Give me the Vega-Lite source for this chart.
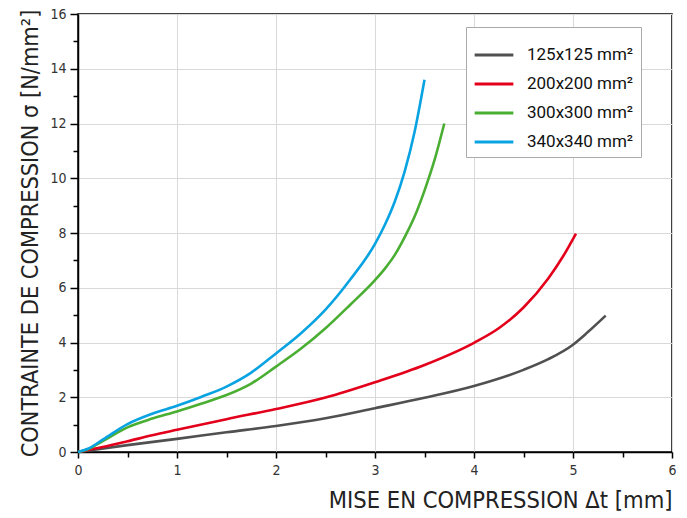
{
  "$schema": "https://vega.github.io/schema/vega-lite/v6.json",
  "autosize": "none",
  "width": 594,
  "height": 438,
  "padding": {"left": 78, "top": 14, "right": 15, "bottom": 66},
  "background": "white",
  "config": {
    "view": {"stroke": "black", "strokeWidth": 1.5},
    "axis": {"labelFont": "DejaVu Sans Condensed, Liberation Sans Narrow, DejaVu Sans", "titleFont": "DejaVu Sans Condensed, Liberation Sans Narrow, DejaVu Sans", "labelColor": "#333", "titleColor": "#222", "titleFontWeight": "normal", "domainColor": "black", "tickColor": "black", "domainWidth": 1.5, "tickWidth": 1.5, "gridColor": "#d9d9d9", "gridWidth": 1, "labelFlush": false}
  },
  "data": {"values": [
    {"s": "125x125 mm²", "x": 0, "y": 0},
    {"s": "125x125 mm²", "x": 0.5, "y": 0.25},
    {"s": "125x125 mm²", "x": 1, "y": 0.48},
    {"s": "125x125 mm²", "x": 1.5, "y": 0.72},
    {"s": "125x125 mm²", "x": 2, "y": 0.95},
    {"s": "125x125 mm²", "x": 2.5, "y": 1.23},
    {"s": "125x125 mm²", "x": 3, "y": 1.6},
    {"s": "125x125 mm²", "x": 3.5, "y": 1.98},
    {"s": "125x125 mm²", "x": 4, "y": 2.41},
    {"s": "125x125 mm²", "x": 4.5, "y": 3.0},
    {"s": "125x125 mm²", "x": 4.75, "y": 3.39},
    {"s": "125x125 mm²", "x": 5, "y": 3.92},
    {"s": "125x125 mm²", "x": 5.15, "y": 4.38},
    {"s": "125x125 mm²", "x": 5.33, "y": 4.98},
    {"s": "200x200 mm²", "x": 0, "y": 0},
    {"s": "200x200 mm²", "x": 0.25, "y": 0.18},
    {"s": "200x200 mm²", "x": 0.5, "y": 0.39},
    {"s": "200x200 mm²", "x": 0.75, "y": 0.61},
    {"s": "200x200 mm²", "x": 1, "y": 0.81},
    {"s": "200x200 mm²", "x": 1.5, "y": 1.2},
    {"s": "200x200 mm²", "x": 2, "y": 1.57},
    {"s": "200x200 mm²", "x": 2.5, "y": 1.99},
    {"s": "200x200 mm²", "x": 3, "y": 2.55},
    {"s": "200x200 mm²", "x": 3.5, "y": 3.18},
    {"s": "200x200 mm²", "x": 4, "y": 3.99},
    {"s": "200x200 mm²", "x": 4.25, "y": 4.52},
    {"s": "200x200 mm²", "x": 4.5, "y": 5.28},
    {"s": "200x200 mm²", "x": 4.75, "y": 6.34},
    {"s": "200x200 mm²", "x": 4.9, "y": 7.15},
    {"s": "200x200 mm²", "x": 5.03, "y": 7.98},
    {"s": "300x300 mm²", "x": 0, "y": 0},
    {"s": "300x300 mm²", "x": 0.1, "y": 0.1},
    {"s": "300x300 mm²", "x": 0.25, "y": 0.4},
    {"s": "300x300 mm²", "x": 0.5, "y": 0.9},
    {"s": "300x300 mm²", "x": 0.75, "y": 1.22},
    {"s": "300x300 mm²", "x": 1, "y": 1.48},
    {"s": "300x300 mm²", "x": 1.25, "y": 1.77},
    {"s": "300x300 mm²", "x": 1.5, "y": 2.08},
    {"s": "300x300 mm²", "x": 1.75, "y": 2.5},
    {"s": "300x300 mm²", "x": 2, "y": 3.12},
    {"s": "300x300 mm²", "x": 2.25, "y": 3.77},
    {"s": "300x300 mm²", "x": 2.5, "y": 4.52},
    {"s": "300x300 mm²", "x": 2.75, "y": 5.38},
    {"s": "300x300 mm²", "x": 3, "y": 6.28},
    {"s": "300x300 mm²", "x": 3.1, "y": 6.7},
    {"s": "300x300 mm²", "x": 3.2, "y": 7.2},
    {"s": "300x300 mm²", "x": 3.3, "y": 7.85},
    {"s": "300x300 mm²", "x": 3.4, "y": 8.6},
    {"s": "300x300 mm²", "x": 3.5, "y": 9.55},
    {"s": "300x300 mm²", "x": 3.6, "y": 10.65},
    {"s": "300x300 mm²", "x": 3.7, "y": 12.0},
    {"s": "340x340 mm²", "x": 0, "y": 0},
    {"s": "340x340 mm²", "x": 0.1, "y": 0.12},
    {"s": "340x340 mm²", "x": 0.25, "y": 0.45},
    {"s": "340x340 mm²", "x": 0.5, "y": 1.02},
    {"s": "340x340 mm²", "x": 0.75, "y": 1.4},
    {"s": "340x340 mm²", "x": 1, "y": 1.69},
    {"s": "340x340 mm²", "x": 1.25, "y": 2.02},
    {"s": "340x340 mm²", "x": 1.5, "y": 2.39},
    {"s": "340x340 mm²", "x": 1.75, "y": 2.9},
    {"s": "340x340 mm²", "x": 2, "y": 3.6},
    {"s": "340x340 mm²", "x": 2.25, "y": 4.33},
    {"s": "340x340 mm²", "x": 2.5, "y": 5.2},
    {"s": "340x340 mm²", "x": 2.75, "y": 6.3},
    {"s": "340x340 mm²", "x": 3, "y": 7.6},
    {"s": "340x340 mm²", "x": 3.1, "y": 8.3},
    {"s": "340x340 mm²", "x": 3.2, "y": 9.15},
    {"s": "340x340 mm²", "x": 3.3, "y": 10.25},
    {"s": "340x340 mm²", "x": 3.4, "y": 11.7},
    {"s": "340x340 mm²", "x": 3.5, "y": 13.6}
  ]},
  "resolve": {"axis": {"x": "independent", "y": "independent"}},
  "layer": [
    {
      "mark": {"type": "line", "interpolate": "monotone", "strokeWidth": 2.6},
      "encoding": {
        "x": {"field": "x", "type": "quantitative", "scale": {"domain": [0, 6], "nice": false},
          "axis": {"orient": "bottom", "values": [0, 1, 2, 3, 4, 5, 6], "title": "MISE EN COMPRESSION Δt [mm]", "titleFontSize": 23.5, "titleAnchor": "end", "titleAlign": "right", "titlePadding": 11, "labelFontSize": 14, "labelPadding": 5, "tickSize": 6, "grid": true}},
        "y": {"field": "y", "type": "quantitative", "scale": {"domain": [0, 16], "nice": false},
          "axis": {"orient": "left", "values": [0, 2, 4, 6, 8, 10, 12, 14, 16], "title": "CONTRAINTE DE COMPRESSION σ [N/mm²]", "titleFontSize": 23.3, "titlePadding": 7, "labelFontSize": 14, "labelPadding": 4, "tickSize": 8, "grid": true}},
        "color": {"field": "s", "type": "nominal",
          "scale": {"domain": ["125x125 mm²", "200x200 mm²", "300x300 mm²", "340x340 mm²"], "range": ["#505050", "#e3001b", "#4aae33", "#0aa3e2"]},
          "legend": {"title": null, "orient": "none", "legendX": 388, "legendY": 13, "symbolType": "stroke", "symbolSize": 1500, "symbolStrokeWidth": 3, "labelOffset": 12, "labelFont": "Roboto", "labelFontSize": 17, "labelColor": "#111", "fillColor": "white", "strokeColor": "#aaa", "padding": 7, "rowPadding": 0}
        }
      }
    },
    {
      "mark": {"type": "point", "opacity": 0},
      "encoding": {
        "x": {"field": "x", "type": "quantitative", "axis": {"orient": "bottom", "values": [0.5, 1.5, 2.5, 3.5, 4.5, 5.5], "labels": false, "domain": false, "grid": false, "title": null, "tickSize": 5}},
        "y": {"field": "y", "type": "quantitative", "axis": {"orient": "left", "values": [1, 3, 5, 7, 9, 11, 13, 15], "labels": false, "domain": false, "grid": false, "title": null, "tickSize": 5}}
      }
    }
  ]
}
